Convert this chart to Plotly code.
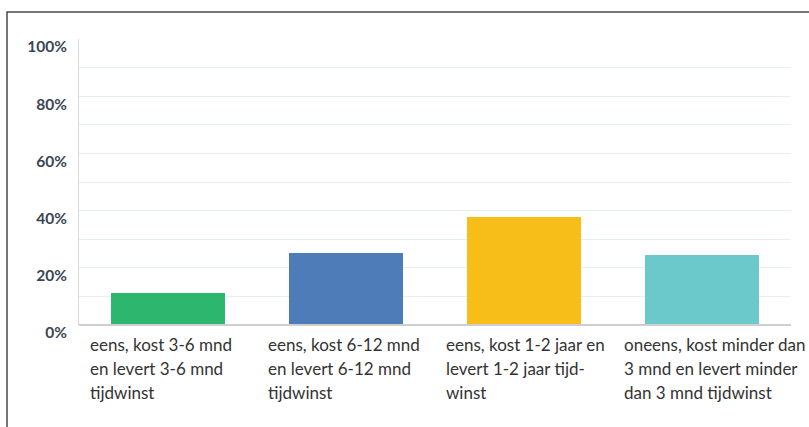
import plotly.graph_objects as go

categories = ["cat1", "cat2", "cat3", "cat4"]
label_lines = [
    ["eens, kost 3-6 mnd", "en levert 3-6 mnd", "tijdwinst"],
    ["eens, kost 6-12 mnd", "en levert 6-12 mnd", "tijdwinst"],
    ["eens, kost 1-2 jaar en", "levert 1-2 jaar tijd-", "winst"],
    ["oneens, kost minder dan", "3 mnd en levert minder", "dan 3 mnd tijdwinst"],
]
values = [11.2, 25.3, 37.9, 24.5]
colors = ["#2db66d", "#4e7cb9", "#f7bd18", "#6bc8cb"]
grid_vals = [10, 20, 30, 40, 50, 60, 70, 80, 90]
tick_vals = [0, 20, 40, 60, 80, 100]
tick_text = ["0%", "20%", "40%", "60%", "80%", "100%"]

FONT = "Lato"

fig = go.Figure()
fig.add_trace(go.Bar(
    x=list(range(len(categories))), y=values,
    marker=dict(color=colors, line=dict(width=0)),
    width=0.646, hoverinfo="skip", yaxis="y",
))
fig.add_trace(go.Scatter(x=[None], y=[None], yaxis="y2", showlegend=False))

annotations = []
for i, lines in enumerate(label_lines):
    for j, line in enumerate(lines):
        annotations.append(dict(
            x=i - 0.5 + 9 / 178, y=0, xref="x", yref="y",
            xanchor="left", yanchor="top", text=line, showarrow=False,
            align="left", yshift=-7 - 24 * j,
            font=dict(family=FONT, size=17, color="#333333"),
        ))

fig.update_layout(
    width=809, height=427,
    margin=dict(l=79, r=18, t=39, b=102),
    paper_bgcolor="white", plot_bgcolor="white",
    showlegend=False, bargap=0,
    xaxis=dict(range=[-0.5, 3.5], showticklabels=False, showgrid=False,
               zeroline=False, showline=False, fixedrange=True),
    yaxis=dict(range=[0, 100], tickvals=grid_vals, showticklabels=False,
               showgrid=True, gridcolor="#e9eef0", gridwidth=1,
               zeroline=False, showline=True, linecolor="#d9d9d9", linewidth=1),
    yaxis2=dict(range=[0, 100], overlaying="y", side="left",
                tickvals=tick_vals, ticktext=tick_text, showgrid=False,
                zeroline=False, showline=False, ticks="",
                ticklabelshift=8, ticklabelstandoff=11,
                tickfont=dict(family=FONT, size=15.5, color="#3b4552", weight="bold")),
    annotations=annotations,
    shapes=[
        dict(type="line", xref="paper", yref="paper", x0=0, x1=1, y0=0, y1=0,
             line=dict(color="#cfcfcf", width=2), layer="above"),
        dict(type="rect", xref="paper", yref="paper",
             x0=(7 - 79) / 712, x1=1.6, y0=-1.0, y1=(325 - 12) / 286,
             line=dict(color="#4a4a4a", width=1.5), fillcolor="rgba(0,0,0,0)"),
    ],
)

fig.write_html("out.html", post_script="document.body.style.margin='0';",
               config={"displayModeBar": False})
